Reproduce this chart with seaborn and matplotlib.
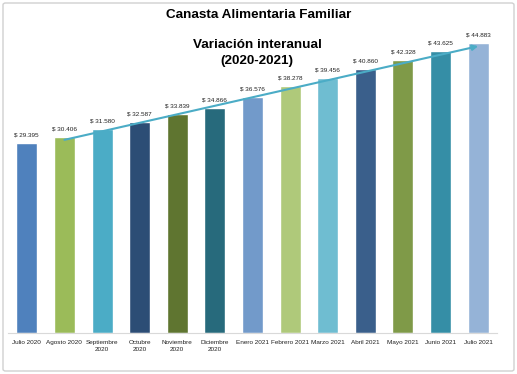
import matplotlib
matplotlib.use("Agg")
import matplotlib.pyplot as plt
from matplotlib import font_manager
import seaborn as sns
import pandas as pd
from matplotlib.patches import FancyBboxPatch

months = ["Julio 2020", "Agosto 2020", "Septiembre\n2020", "Octubre\n2020", "Noviembre\n2020",
          "Diciembre\n2020", "Enero 2021", "Febrero 2021", "Marzo 2021", "Abril 2021",
          "Mayo 2021", "Junio 2021", "Julio 2021"]
values = [29395, 30406, 31580, 32587, 33839, 34866, 36576, 38278, 39456, 40860, 42328, 43625, 44883]
colors = ["#4F81BD", "#9BBB59", "#4BACC6", "#2C4D75", "#5F7530", "#276A7C", "#729ACA",
          "#AFC97A", "#6FBDD1", "#3A5F8B", "#7F9A48", "#358EA6", "#95B3D7"]
trend_start = 29900
trend_end = 44400

sns.set_theme(style="white")
plt.rcParams["font.family"] = ["Liberation Sans", "DejaVu Sans"]

try:
    font_manager.findfont("Liberation Sans Narrow", fallback_to_default=False)
    narrow = ["Liberation Sans Narrow", "Liberation Sans"]
    narrow_ok = True
except Exception:
    narrow = ["Liberation Sans"]
    narrow_ok = False

df = pd.DataFrame({"mes": months, "valor": values})

fig = plt.figure(figsize=(5.17, 3.74), dpi=100)
ax = fig.add_axes([8/517, 41/374, 489/517, 323/374])

sns.barplot(data=df, x="mes", y="valor", hue="mes", palette=colors, legend=False,
            width=0.56, ax=ax, saturation=1)

lab_size = 5.3 if narrow_ok else 4.6
for cont in ax.containers:
    ax.bar_label(cont, labels=[("$ " + f"{v:,.0f}".replace(",", ".")) for v in cont.datavalues],
                 padding=4, fontsize=lab_size, color="#222222", family=narrow)

ax.set_ylim(0, 50000)
ax.set_xlim(-0.5, len(months) - 0.5)
ax.set_xlabel("")
ax.set_ylabel("")
ax.set_yticks([])
for s in ["top", "right", "left"]:
    ax.spines[s].set_visible(False)
ax.spines["bottom"].set_color("#D9D9D9")
ax.spines["bottom"].set_linewidth(0.8)
ax.tick_params(axis="x", length=0, pad=5, colors="#222222")
ax.set_xticks(range(len(months)))
ax.set_xticklabels(months, fontsize=lab_size, family=narrow, linespacing=1.5, va="top")

ax.annotate("", xy=(12, trend_end), xytext=(1, trend_start),
            arrowprops=dict(arrowstyle="-|>", color="#4BACC6", lw=1.5,
                            mutation_scale=8, shrinkA=0, shrinkB=0))

fig.text(0.5, 1 - 15/374, "Canasta Alimentaria Familiar", ha="center", va="center",
         fontsize=9.7, fontweight="bold", color="#000000")
fig.text(257/517, 1 - 45/374, "Variación interanual", ha="center", va="center",
         fontsize=9.7, fontweight="bold", color="#000000")
fig.text(257/517, 1 - 61/374, "(2020-2021)", ha="center", va="center",
         fontsize=9.7, fontweight="bold", color="#000000")

border = FancyBboxPatch((3/517, 3/374), 511/517, 368/374, boxstyle="round,pad=0,rounding_size=0.005",
                        transform=fig.transFigure, fill=False, edgecolor="#D0D0D0", lw=1.0)
fig.patches.append(border)

fig.savefig("out.png", dpi=100)
